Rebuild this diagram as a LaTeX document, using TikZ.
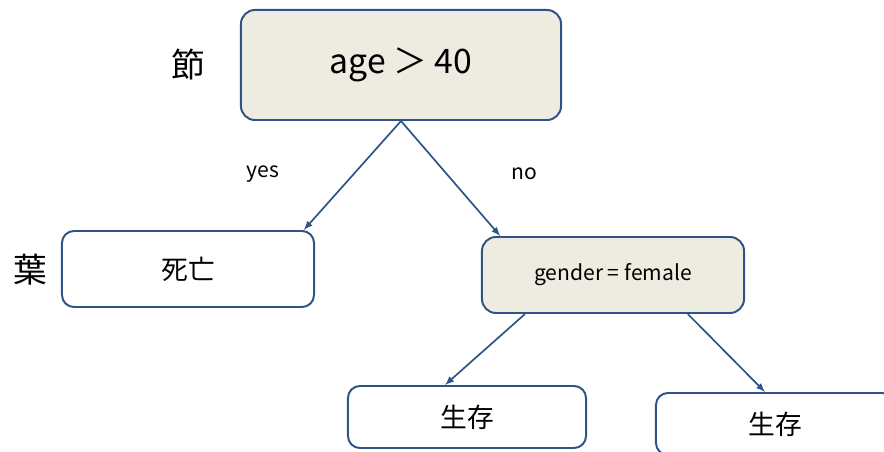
\documentclass[tikz,border=0pt]{standalone}
\usepackage{fontspec}
\setmainfont{Noto Sans CJK JP}
\usetikzlibrary{arrows}

\definecolor{edgeblue}{HTML}{2E5387}
\definecolor{testfill}{HTML}{EEEBE0}

\begin{document}
\begin{tikzpicture}[x=0.025cm, y=-0.025cm, >=latex,
    test/.style={rectangle, draw=edgeblue, line width=1.4pt, fill=testfill, rounded corners=0.35cm, inner sep=0pt},
    leaf/.style={rectangle, draw=edgeblue, line width=1.4pt, fill=white, rounded corners=0.3cm, inner sep=0pt},
    branch/.style={font=\fontsize{15}{18}\selectfont}]
    \clip (0, 0) rectangle (884, 452);

    \node (root) [test, minimum width=8cm, minimum height=2.75cm, font=\fontsize{24}{28}\selectfont] at (401, 65) {age ＞ 40};
    \node (cond) [test, minimum width=6.55cm, minimum height=1.9cm, font=\fontsize{15}{18}\selectfont] at (613, 275) {gender = female};
    \node (dead) [leaf, minimum width=6.3cm, minimum height=1.9cm, font=\fontsize{19}{22}\selectfont] at (188, 269) {死亡};
    \node (live1) [leaf, minimum width=5.95cm, minimum height=1.55cm, font=\fontsize{19}{22}\selectfont] at (467, 417) {生存};
    \node (live2) [leaf, minimum width=5.95cm, minimum height=1.55cm, font=\fontsize{19}{22}\selectfont] at (775, 424) {生存};

    \node (nodelabel) [font=\fontsize{24}{28}\selectfont] at (188, 65) {節};
    \node (leaflabel) [font=\fontsize{24}{28}\selectfont] at (30, 270) {葉};
    \node (yes) [branch] at (263, 174) {yes};
    \node (no) [branch] at (524, 174) {no};

    \draw[->, edgeblue, line width=1.2pt] (root.south) to ([xshift=-0.28cm]dead.north east);
    \draw[->, edgeblue, line width=1.2pt] (root.south) to ([xshift=0.48cm]cond.north west);
    \draw[->, edgeblue, line width=1.2pt] ([xshift=1.1cm]cond.south west) to ([xshift=-0.55cm]live1.north);
    \draw[->, edgeblue, line width=1.2pt] ([xshift=-1.43cm]cond.south east) to ([xshift=-0.25cm]live2.north);
\end{tikzpicture}
\end{document}
